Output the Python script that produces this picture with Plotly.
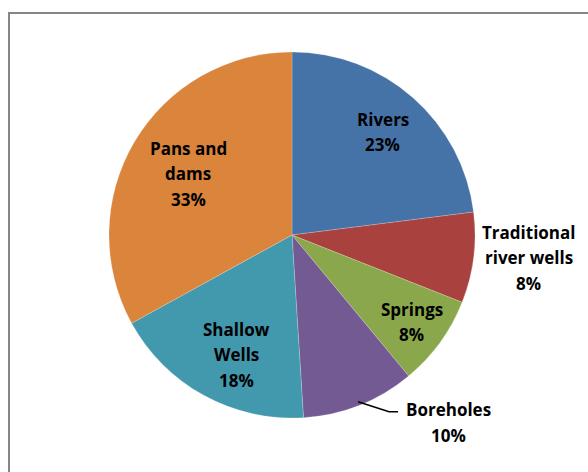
import math
import plotly.graph_objects as go

# ---- data ----
categories = ["Rivers", "Traditional river wells", "Springs", "Boreholes", "Shallow Wells", "Pans and dams"]
label_text = ["Rivers", "Traditional<br>river wells", "Springs", "Boreholes", "Shallow<br>Wells", "Pans and<br>dams"]
values = [23, 8, 8, 10, 18, 33]

# ---- style ----
colors = ["#4573A8", "#A9413E", "#8AA84B", "#735A93", "#4299AE", "#DA843C"]
# label placement per slice: (mode, radial factor, angle tweak deg)
placement = [("in", 0.75, 0), ("out", 0, 0), ("in", 0.81, 0), ("lead", 0, 0), ("in", 0.72, -4), ("in", 0.66, 0)]
FONT = dict(family="Open Sans", size=17, color="#000000", weight="bold")
LS = 25.5  # line spacing in px

W, H = 588, 472
cx, cy, r = 292, 235, 183


def to_paper(px, py):
    return px / W, 1 - py / H


fig = go.Figure(go.Pie(
    labels=categories,
    values=values,
    sort=False,
    direction="clockwise",
    rotation=0,
    marker=dict(colors=colors, line=dict(color="rgba(255,255,255,0.4)", width=0.5)),
    textinfo="none",
    domain=dict(x=[(cx - r) / W, (cx + r) / W], y=[(H - cy - r) / H, (H - cy + r) / H]),
    automargin=False,
    showlegend=False,
    hoverinfo="label+percent",
))

total = sum(values)
annotations = []
shapes = [dict(type="rect", xref="paper", yref="paper",
               x0=9 / W, x1=1.05, y0=-0.05, y1=(H - 13) / H,
               line=dict(color="#868686", width=2))]


def add_block(lines, px, py):
    """Place a multi-line label block centred at (px, py)."""
    n = len(lines)
    for i, ln in enumerate(lines):
        ly = py + (i - (n - 1) / 2) * LS
        x, y = to_paper(px, ly)
        annotations.append(dict(x=x, y=y, xref="paper", yref="paper", text=ln,
                                showarrow=False, xanchor="center", yanchor="middle",
                                font=FONT))


cum = 0
for txt, v, (mode, rf, tweak) in zip(label_text, values, placement):
    mid = (cum + v / 2) / total * 360
    cum += v
    lines = txt.split("<br>") + [f"{round(v / total * 100)}%"]
    a = math.radians(mid + tweak)
    if mode == "in":
        px, py = cx + rf * r * math.sin(a), cy - rf * r * math.cos(a)
        add_block(lines, px, py)
    elif mode == "out":
        ex, ey = cx + r * math.sin(a), cy - r * math.cos(a)
        add_block(lines, ex + 55, ey)
    else:
        ex, ey = cx + 0.98 * r * math.sin(a), cy - 0.98 * r * math.cos(a)
        bx, by = ex + 31, ey + 10
        tx, ty = bx + 9, by
        pts = [to_paper(ex, ey), to_paper(bx, by), to_paper(tx, ty)]
        path = "M " + " L ".join(f"{p[0]},{p[1]}" for p in pts)
        shapes.append(dict(type="path", xref="paper", yref="paper", path=path,
                           line=dict(color="#000000", width=1.5)))
        add_block(lines, tx + 50, ty + 11)

fig.update_layout(
    width=W, height=H,
    margin=dict(l=0, r=0, t=0, b=0),
    paper_bgcolor="white",
    shapes=shapes,
    annotations=annotations,
    font=dict(family="Open Sans"),
)

fig.write_html("out.html")
